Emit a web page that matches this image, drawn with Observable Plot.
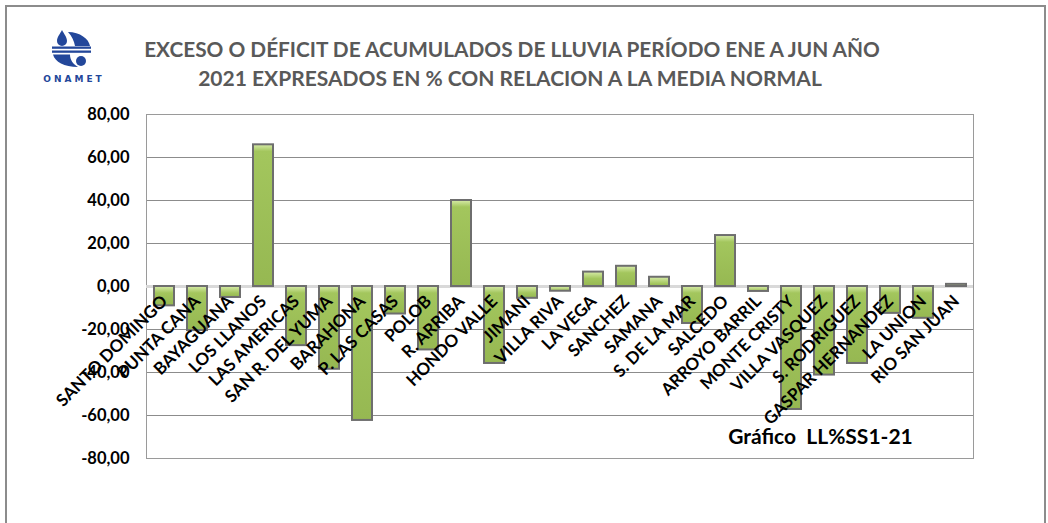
<!DOCTYPE html>
<html><head><meta charset="utf-8">
<script src="https://cdn.jsdelivr.net/npm/d3@7"></script>
<script src="https://cdn.jsdelivr.net/npm/@observablehq/plot@0.6"></script>
<style>
html,body{margin:0;padding:0;background:#fff;}
#wrap{position:relative;width:1048px;height:523px;overflow:hidden;font-family:Lato,sans-serif;}
#border{position:absolute;left:5px;top:5px;width:1041px;height:540px;border:2px solid #8c8c8c;box-sizing:border-box;}
#logo{position:absolute;left:0;top:0;}
#chart{position:absolute;left:0;top:0;}
svg text{white-space:pre;}
</style></head><body>
<div id="wrap">
<div id="border"></div>
<svg id="logo" width="140" height="100" viewBox="0 0 140 100">
  <g fill="#23479a">
    <path d="M62,30 C60,34 57,37 57,41 A5,5 0 0 0 67,41 C67,37 64,34 62,30Z"/>
    <path d="M68,32 C80,32 89,39 90,46 L75,46 C74,41 72,36 68,32Z"/>
    <rect x="52" y="46.5" width="39" height="2.3"/>
    <rect x="52" y="50.5" width="39" height="2.3"/>
    <path d="M53,54.5 L70,54.5 C70,60 73,64 78,67 C64,67 55,62 53,54.5Z"/>
    <circle cx="81" cy="61" r="5"/>
    <text x="74" y="82" text-anchor="middle" font-family="DejaVu Sans" font-weight="bold" font-size="9" letter-spacing="3">ONAMET</text>
  </g>
</svg>
<div id="chart"></div>
</div>
<script>
const categories = ["SANTO DOMINGO","PUNTA CANA","BAYAGUANA","LOS LLANOS","LAS AMERICAS","SAN R. DEL YUMA","BARAHONA","P. LAS CASAS","POLOB","R. ARRIBA","HONDO VALLE","JIMANI","VILLA RIVA","LA VEGA","SANCHEZ","SAMANA","S. DE LA MAR","SALCEDO","ARROYO BARRIL","MONTE CRISTY","VILLA VASQUEZ","S. RODRIGUEZ","GASPAR HERNANDEZ","LA UNION","RIO SAN JUAN"];
const values = [-9.0,-20.5,-5.1,65.9,-27.5,-38.5,-62.3,-12.8,-29.5,40.0,-35.8,-5.5,-2.2,6.7,9.4,4.3,-17.2,23.7,-2.3,-57.2,-41.2,-35.8,-12.5,-14.8,1.0];
const yTicks = [-80,-60,-40,-20,0,20,40,60,80];
const titleLines = ["EXCESO O DÉFICIT DE ACUMULADOS DE LLUVIA PERÍODO ENE A JUN AÑO","2021 EXPRESADOS EN % CON RELACION A LA MEDIA NORMAL"];
const chartCode = "Gráfico  LL%SS1-21";

const data = categories.map((name, i) => ({name, value: values[i]}));
const fmt = d => d.toFixed(2).replace(".", ",");

const chart = Plot.plot({
  width: 1048, height: 523,
  marginLeft: 146, marginRight: 75, marginTop: 114, marginBottom: 65,
  style: {fontFamily: "Lato, sans-serif", background: "transparent", overflow: "visible"},
  x: {domain: categories, paddingInner: 0.4, paddingOuter: 0.2, axis: null},
  y: {domain: [-80, 80], axis: null},
  marks: [
    Plot.ruleY(yTicks.filter(d => d !== 0), {stroke: "#8c8c8c", strokeWidth: 1}),
    Plot.frame({stroke: "#9a9a9a"}),
    Plot.ruleY([0], {stroke: "#d9d9d9", strokeWidth: 3}),
    Plot.barY(data, {x: "name", y: "value", fill: "#a0c45a", stroke: "#6e6e6e", strokeWidth: 2}),
    Plot.axisY({ticks: yTicks, label: null, tickSize: 0, tickPadding: 17, tickFormat: fmt, fontSize: 16.5, fontWeight: "bold", fill: "#000"}),
    Plot.text(data, {x: "name", y: 0, text: "name", rotate: -45, textAnchor: "end", dx: 0, dy: 12, fontSize: 17, fontWeight: "bold", fill: "#000"}),
    Plot.text([titleLines[0]], {text: d => d, frameAnchor: "top", dx: -48, dy: -72, fontSize: 20.8, fontWeight: "bold", fill: "#595959"}),
    Plot.text([titleLines[1]], {text: d => d, frameAnchor: "top", dx: -50, dy: -43, fontSize: 21, fontWeight: "bold", fill: "#595959"}),
    Plot.text([chartCode], {text: d => d, frameAnchor: "bottom-right", dx: -153, dy: -15, textAnchor: "middle", fontSize: 21, fontWeight: "bold", fill: "#000"})
  ]
});

// bevel-like shading at the top of each bar
const ns = "http://www.w3.org/2000/svg";
const defs = document.createElementNS(ns, "defs");
chart.insertBefore(defs, chart.firstChild);
chart.querySelectorAll('g[aria-label="bar"] rect').forEach((r, i) => {
  const y = +r.getAttribute("y");
  const h = +r.getAttribute("height");
  const g = document.createElementNS(ns, "linearGradient");
  g.setAttribute("id", "bev" + i);
  g.setAttribute("gradientUnits", "userSpaceOnUse");
  g.setAttribute("x1", 0); g.setAttribute("x2", 0);
  g.setAttribute("y1", y); g.setAttribute("y2", y + Math.max(h, 1));
  const stops = [[0, "#d8ecaa"], [Math.min(1, 7 / Math.max(h, 1)), "#a3c65d"], [1, "#96b852"]];
  stops.forEach(([o, c]) => {
    const s = document.createElementNS(ns, "stop");
    s.setAttribute("offset", o); s.setAttribute("stop-color", c);
    g.appendChild(s);
  });
  defs.appendChild(g);
  r.setAttribute("fill", `url(#bev${i})`);
});
document.getElementById("chart").appendChild(chart);
</script>
</body></html>
